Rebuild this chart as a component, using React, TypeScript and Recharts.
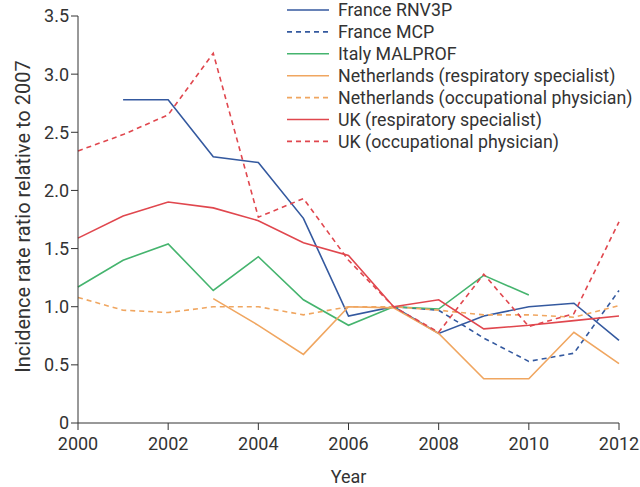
import { LineChart, Line, XAxis, YAxis, Legend } from "recharts";

const years = [2000, 2001, 2002, 2003, 2004, 2005, 2006, 2007, 2008, 2009, 2010, 2011, 2012];

type V = number | null;

const franceRnv3p: V[] = [null, 2.78, 2.78, 2.29, 2.24, 1.76, 0.92, 1.0, 0.77, 0.92, 1.0, 1.03, 0.71];
const franceMcp: V[] = [null, null, null, null, null, null, null, 1.0, 0.97, 0.73, 0.53, 0.6, 1.14];
const italyMalprof: V[] = [1.17, 1.4, 1.54, 1.14, 1.43, 1.06, 0.84, 1.0, 0.98, 1.27, 1.1, null, null];
const nlRespiratory: V[] = [null, null, null, 1.07, 0.84, 0.59, 1.0, 0.99, 0.77, 0.38, 0.38, 0.78, 0.51];
const nlOccupational: V[] = [1.08, 0.97, 0.95, 1.0, 1.0, 0.93, 1.0, 1.0, 0.97, 0.93, 0.93, 0.91, 1.01];
const ukRespiratory: V[] = [1.59, 1.78, 1.9, 1.85, 1.74, 1.55, 1.44, 1.0, 1.06, 0.81, 0.84, 0.88, 0.92];
const ukOccupational: V[] = [2.34, 2.48, 2.65, 3.18, 1.77, 1.93, 1.4, 1.0, 0.78, 1.28, 0.83, 0.94, 1.73];

const xTicks = [2000, 2002, 2004, 2006, 2008, 2010, 2012];
const yTicks = [0, 0.5, 1.0, 1.5, 2.0, 2.5, 3.0, 3.5];

const series = [
  { key: "franceRnv3p", name: "France RNV3P", values: franceRnv3p, color: "#34599f", dash: undefined },
  { key: "franceMcp", name: "France MCP", values: franceMcp, color: "#34599f", dash: "5 4" },
  { key: "italyMalprof", name: "Italy MALPROF", values: italyMalprof, color: "#45b46e", dash: undefined },
  { key: "nlRespiratory", name: "Netherlands (respiratory specialist)", values: nlRespiratory, color: "#f0a660", dash: undefined },
  { key: "nlOccupational", name: "Netherlands (occupational physician)", values: nlOccupational, color: "#f0a660", dash: "5 4" },
  { key: "ukRespiratory", name: "UK (respiratory specialist)", values: ukRespiratory, color: "#e0474e", dash: undefined },
  { key: "ukOccupational", name: "UK (occupational physician)", values: ukOccupational, color: "#e0474e", dash: "5 4" },
];

const data = years.map((year, i) => {
  const row: Record<string, number | null> = { year };
  series.forEach((s) => {
    row[s.key] = s.values[i];
  });
  return row;
});

const font = "Roboto, 'DejaVu Sans', sans-serif";

function LegendContent() {
  return (
    <svg width={360} height={160} style={{ display: "block" }}>
      {series.map((s, i) => {
        const y = 10 + i * 21.9;
        return (
          <g key={s.key}>
            <line x1={2} x2={44} y1={y} y2={y} stroke={s.color} strokeWidth={1.6} strokeDasharray={s.dash} />
            <text x={53} y={y} dy="0.35em" fontSize={17.8} fill="#333" fontFamily={font}>
              {s.name}
            </text>
          </g>
        );
      })}
    </svg>
  );
}

export default function App() {
  return (
    <div style={{ position: "absolute", left: 0, top: 0, width: 640, height: 487, background: "#fff" }}>
      <LineChart width={640} height={487} data={data} margin={{ top: 16, right: 21, left: 18, bottom: 24 }}>
        <XAxis
          dataKey="year"
          type="number"
          domain={[2000, 2012]}
          ticks={xTicks}
          height={40}
          stroke="#333"
          tickSize={7}
          tick={{ fill: "#333", fontSize: 18, fontFamily: font, dy: 5 }}
          label={{ value: "Year", position: "insideBottom", offset: -20, fill: "#333", fontSize: 18, fontFamily: font }}
        />
        <YAxis
          type="number"
          domain={[0, 3.5]}
          ticks={yTicks}
          width={60}
          stroke="#333"
          tickSize={7}
          tickFormatter={(v: number) => (v === 0 ? "0" : v.toFixed(1))}
          tick={{ fill: "#333", fontSize: 18, fontFamily: font }}
          label={{
            value: "Incidence rate ratio relative to 2007",
            angle: -90,
            position: "insideLeft",
            offset: 0,
            dx: 5,
            dy: -3,
            style: { textAnchor: "middle", fill: "#333", fontSize: 20, fontFamily: font },
          }}
        />
        <Legend
          content={<LegendContent />}
          layout="vertical"
          verticalAlign="middle"
          align="center"
          wrapperStyle={{ position: "absolute", left: 285, top: 0, width: 360, height: 160 }}
        />
        {series.map((s) => (
          <Line
            key={s.key}
            dataKey={s.key}
            name={s.name}
            type="linear"
            stroke={s.color}
            strokeWidth={1.6}
            strokeDasharray={s.dash}
            dot={false}
            activeDot={false}
            isAnimationActive={false}
          />
        ))}
      </LineChart>
    </div>
  );
}
